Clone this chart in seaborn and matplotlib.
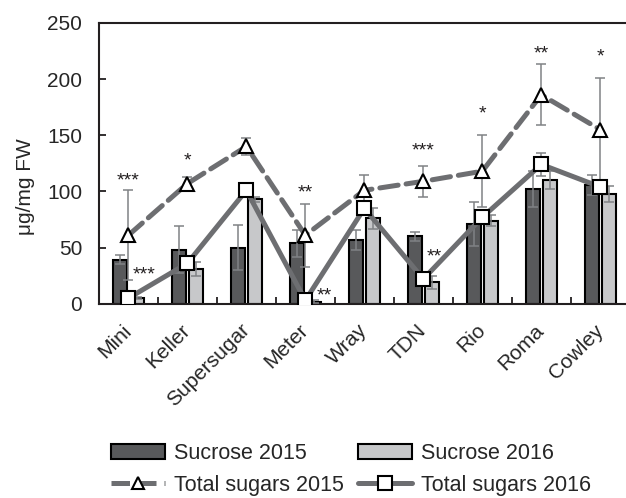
import matplotlib
matplotlib.use("Agg")
import matplotlib.pyplot as plt
import seaborn as sns
import pandas as pd
from matplotlib.patches import Patch
from matplotlib.lines import Line2D

# values
cultivars = ["Mini", "Keller", "Supersugar", "Meter", "Wray", "TDN", "Rio", "Roma", "Cowley"]
sucrose_2015 = [39, 48, 50, 54, 57, 60, 71, 102, 106]
sucrose_2015_err = [4, 21, 20, 12, 9, 4, 20, 16, 9]
sucrose_2016 = [5, 31, 93, 2, 76, 19, 74, 110, 98]
sucrose_2016_err = [1, 6, 2, 1, 9, 6, 5, 8, 7]
total_2015 = [61, 107, 140, 61, 101, 109, 118, 186, 155]
total_2015_err = [40, 6, 8, 28, 14, 14, 32, 27, 46]
total_2016 = [5, 36, 101, 3, 85, 22, 77, 124, 104]
total_2016_err = [2, 4, 4, 1, 5, 3, 6, 10, 6]

# significance stars (upper = 2015, lower = 2016)
sig_upper = ["***", "*", "", "**", "", "***", "*", "**", "*"]
sig_upper_y = [115, 133, 0, 105, 0, 142, 175, 228, 226]
sig_lower = ["***", "", "", "**", "", "**", "", "", ""]
sig_lower_y = [32, 0, 0, 13, 0, 48, 0, 0, 0]
sig_lower_dx = [0.07, 0, 0, 0.19, 0, 0.05, 0, 0, 0]

dark = "#58595b"
light = "#c7c8ca"
line_col = "#6d6e71"
err_col = "#808285"

sns.set_style("white")
plt.rcParams["font.family"] = ["Liberation Sans", "DejaVu Sans"]

fig = plt.figure(figsize=(6.26, 4.98), dpi=100)
ax = fig.add_axes([0.158, 0.39, 0.848, 0.564])

# bars
bars = pd.DataFrame({
    "cultivar": cultivars * 2,
    "value": sucrose_2015 + sucrose_2016,
    "series": ["Sucrose 2015"] * 9 + ["Sucrose 2016"] * 9,
})
sns.barplot(data=bars, x="cultivar", y="value", hue="series",
            palette=[dark, light], width=0.58, gap=0.17,
            edgecolor="black", linewidth=1.5, errorbar=None,
            legend=False, ax=ax)

bar_x = [p.get_x() + p.get_width() / 2 for p in ax.patches]
bar_h = [p.get_height() for p in ax.patches]
ax.errorbar(bar_x, bar_h, yerr=sucrose_2015_err + sucrose_2016_err,
            fmt="none", ecolor=err_col, elinewidth=1.1, capsize=3.5,
            capthick=1.1, zorder=3)

# total sugars error bars (under the line markers)
ax.errorbar(range(9), total_2015, yerr=total_2015_err, fmt="none",
            ecolor=err_col, elinewidth=1.1, capsize=3.5, capthick=1.1, zorder=3)
ax.errorbar(range(9), total_2016, yerr=total_2016_err, fmt="none",
            ecolor=err_col, elinewidth=1.1, capsize=3.5, capthick=1.1, zorder=3)

# lines
totals = pd.DataFrame({
    "cultivar": cultivars * 2,
    "value": total_2015 + total_2016,
    "series": ["Total sugars 2015"] * 9 + ["Total sugars 2016"] * 9,
})
n_before = len(ax.lines)
sns.pointplot(data=totals, x="cultivar", y="value", hue="series",
              palette=[line_col, line_col], markers=["^", "s"],
              linestyles=["--", "-"], errorbar=None, dodge=False,
              legend=False, ax=ax)
for ln in ax.lines[n_before:]:
    ln.set_linewidth(3.6)
    ln.set_markersize(10)
    ln.set_markerfacecolor("white")
    ln.set_markeredgecolor("black")
    ln.set_markeredgewidth(1.5)
    ln.set_dash_capstyle("round")
    ln.set_zorder(4)

# stars
for i in range(9):
    if sig_upper[i]:
        ax.text(i, sig_upper_y[i] - 10, sig_upper[i], ha="center",
                va="baseline", fontsize=14, color="#231f20")
    if sig_lower[i]:
        ax.text(i + sig_lower_dx[i], sig_lower_y[i] - 10, sig_lower[i],
                ha="left", va="baseline", fontsize=14, color="#231f20")

# axes styling
ax.set_xlim(-0.5, 8.5)
ax.set_ylim(0, 250)
ax.set_yticks(range(0, 251, 50))
ax.set_xlabel("")
ax.set_ylabel("μg/mg FW", fontsize=15)
ax.yaxis.set_label_coords(-0.12, 0.416)
ax.set_xticks(range(9))
ax.set_xticklabels(cultivars, rotation=45, ha="right", va="center",
                   rotation_mode="anchor")
ax.set_xticks([i + 0.5 for i in range(-1, 9)], minor=True)
ax.tick_params(axis="x", which="major", length=0, pad=17, labelsize=15)
ax.tick_params(axis="x", which="minor", direction="in", length=5,
               width=1.3, color="#231f20", bottom=True)
ax.tick_params(axis="y", direction="in", length=5, width=1.3,
               color="#231f20", pad=12, labelsize=15, left=True)
for s in ax.spines.values():
    s.set_linewidth(1.5)
    s.set_color("#231f20")

# legend
handles = [
    Patch(facecolor=dark, edgecolor="black", linewidth=1.5, label="Sucrose 2015"),
    Line2D([], [], color=line_col, lw=3.6, ls="--", marker="^", ms=9,
           mfc="white", mec="black", mew=1.5, label="Total sugars 2015"),
    Patch(facecolor=light, edgecolor="black", linewidth=1.5, label="Sucrose 2016"),
    Line2D([], [], color=line_col, lw=3.6, ls="-", marker="s", ms=10,
           mfc="white", mec="black", mew=1.5, label="Total sugars 2016"),
]
fig.legend(handles=handles, ncol=2, loc="upper left",
           bbox_to_anchor=(0.178, 0.11), frameon=False, fontsize=15.5,
           handlelength=2.5, handletextpad=0.4, columnspacing=0.67,
           labelspacing=0.5, borderpad=0, borderaxespad=0)

fig.savefig("out.png", dpi=100)
